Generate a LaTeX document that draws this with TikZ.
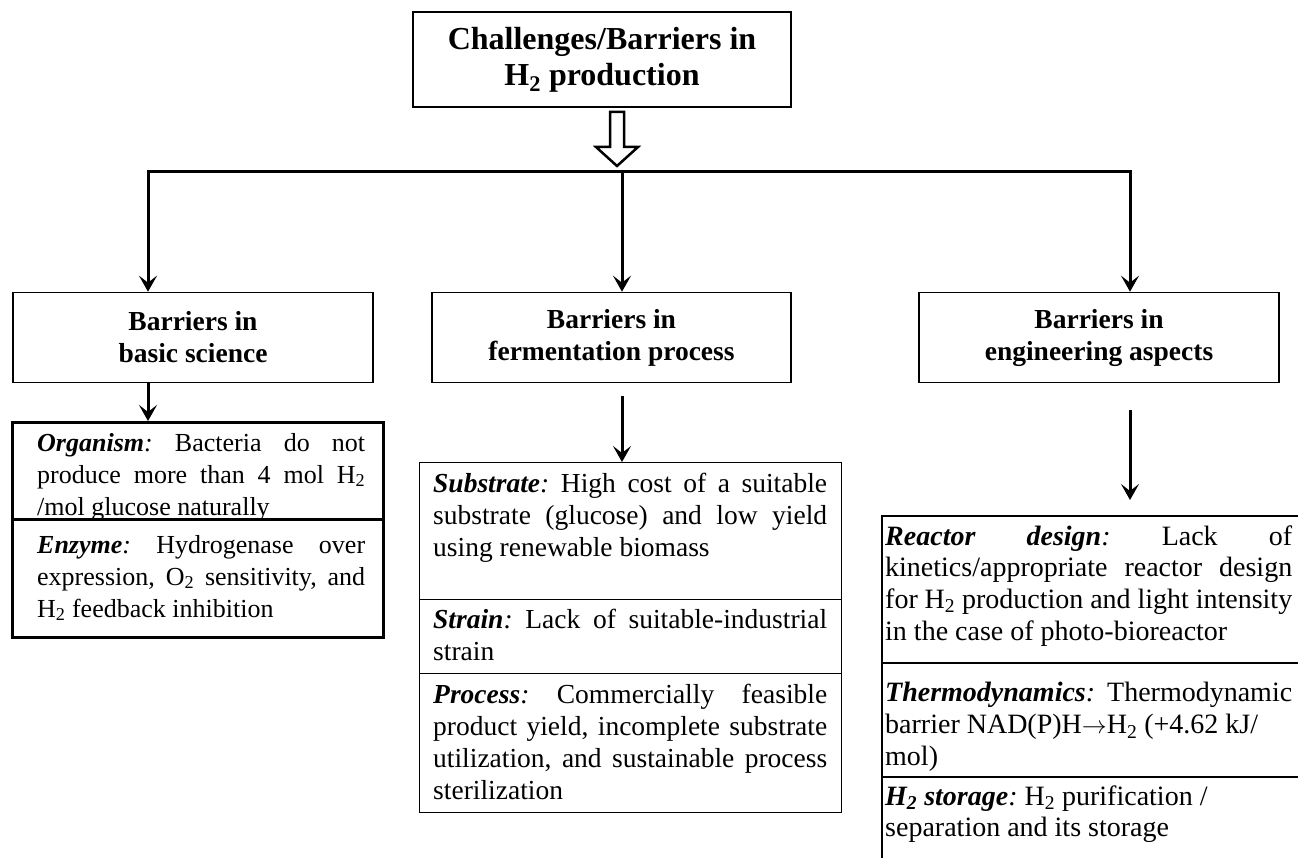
\documentclass[tikz,border=0pt]{standalone}
\usepackage{fontspec}
\setmainfont{Liberation Serif}
\usetikzlibrary{arrows.meta}
\hyphenpenalty=10000
\exhyphenpenalty=10000
\tolerance=9999
\frenchspacing
\newcommand\fntL{\fontsize{26}{32}\selectfont\frenchspacing}
\newcommand\fntM{\fontsize{27.5}{32}\selectfont\frenchspacing}
\newcommand\fntR{\fontsize{28}{31.7}\selectfont\frenchspacing}
\newcommand\lab[1]{\textbf{\textit{#1}}\textit{:}}
\begin{document}
\begin{tikzpicture}[x=1pt,y=-1pt,
  arr/.style={-{Stealth[length=16pt,width=18pt,inset=7pt]}, line width=3pt},
  title/.style={draw, line width=2pt, inner sep=0, align=center,
    font=\fontsize{32}{36}\selectfont\bfseries},
  lvl/.style={draw, line width=1.6pt, inner sep=0, align=center,
    minimum width=360pt, minimum height=90pt,
    font=\fontsize{27.5}{32}\selectfont\bfseries},
  secbox/.style={anchor=north west, inner sep=0, minimum width=#1},
  txt/.style={anchor=north west, inner sep=0, align=justify, text width=#1}
]
\useasboundingbox (0,0) rectangle (1298,858);

% top
\node[title, minimum width=378pt, minimum height=95pt] (top) at (602,59.5)
  {Challenges/Barriers in\\H\textsubscript{2} production};
\draw[line width=2.5pt, fill=white] (610,112) -- (624,112) -- (624,147) -- (638,147)
  -- (617,166) -- (596,147) -- (610,147) -- cycle;

% bus
\coordinate (busL) at (148,172);
\coordinate (busM) at (622,172);
\coordinate (busR) at (1130,172);
\draw[line width=3pt, line cap=rect] (busL) -- (busR);

% level 2
\node[lvl] (lvlL) at (193,337.5) {Barriers in\\basic science};
\node[lvl, minimum width=359pt] (lvlM) at (611.5,337.5) {Barriers in\\fermentation process};
\node[lvl] (lvlR) at (1099,337.5) {Barriers in\\engineering aspects};

\draw[arr] (busL) -- (busL |- lvlL.north);
\draw[arr] (busM) -- (busM |- lvlM.north);
\draw[arr] (busR) -- (busR |- lvlR.north);

% left stack
\node[secbox=371pt, minimum height=97pt, draw, line width=2.5pt] (org) at (11,421) {};
\node[secbox=371pt, minimum height=118pt, draw, line width=2.5pt] (enz) at (11,518) {};
\node[txt=328pt, font=\fntL] (orgT) at (37,428.6)
  {\strut\lab{Organism} Bacteria do not produce more than 4 mol H\textsubscript{2} /mol glucose naturally};
\node[txt=328pt, font=\fntL] (enzT) at (37,530.6)
  {\strut\lab{Enzyme} Hydrogenase over expression, O\textsubscript{2} sensitivity, and H\textsubscript{2} feedback inhibition};
\draw[arr] (busL |- lvlL.south) -- (busL |- org.north);

% middle stack
\node[secbox=422pt, minimum height=137pt, draw, line width=1.3pt] (sub) at (419,462) {};
\node[secbox=422pt, minimum height=74pt, draw, line width=1.3pt] (strn) at (419,599) {};
\node[secbox=422pt, minimum height=139pt, draw, line width=1.3pt] (proc) at (419,673) {};
\node[txt=394pt, font=\fntM] (subT) at (433,469.6)
  {\strut\lab{Substrate} High cost of a suitable substrate (glucose) and low yield using renewable biomass};
\node[txt=394pt, font=\fntM] (strnT) at (433,605.6)
  {\strut\lab{Strain} Lack of suitable-industrial strain};
\node[txt=394pt, font=\fntM] (procT) at (433,680.6)
  {\strut\lab{Process} Commercially feasible product yield, incomplete substrate utilization, and sustainable process sterilization};
\draw[arr, shorten <=13pt] (busM |- lvlM.south) -- (busM |- sub.north);

% right stack (open at right and bottom)
\node[secbox=416pt, minimum height=147pt] (reac) at (882,516) {};
\node[secbox=416pt, minimum height=114pt] (therm) at (882,663) {};
\node[secbox=416pt, minimum height=81pt] (stor) at (882,777) {};
\draw[line width=1.3pt] (reac.north east) -- (reac.north west) -- (stor.south west);
\draw[line width=1.3pt] (therm.north west) -- (therm.north east);
\draw[line width=1.3pt] (stor.north west) -- (stor.north east);
\node[txt=407pt, font=\fntR] (reacT) at (885,522.8)
  {\strut\lab{Reactor design} Lack of kinetics/appropriate reactor design for H\textsubscript{2} production and light intensity in the case of photo-bioreactor};
\node[txt=407pt, font=\fntR] (thermT) at (885,679.5)
  {\strut\lab{Thermodynamics} Thermodynamic barrier NAD(P)H$\rightarrow$H\textsubscript{2} (+4.62 kJ/\\mol)};
\node[txt=407pt, font=\fntR] (storT) at (885,782.8)
  {\strut\lab{H\textsubscript{2} storage} H\textsubscript{2} purification /\\separation and its storage};
\draw[arr, shorten <=27pt, shorten >=16pt] (busR |- lvlR.south) -- (busR |- reac.north);
\end{tikzpicture}
\end{document}
